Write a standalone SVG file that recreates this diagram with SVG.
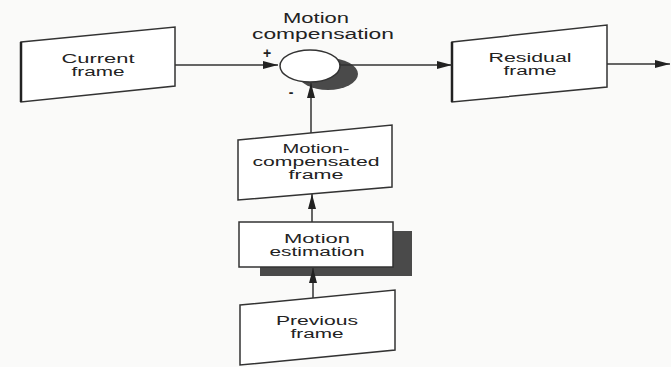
<svg xmlns="http://www.w3.org/2000/svg" width="671" height="367" viewBox="0 0 671 367">
<style>
.box{fill:#fff;stroke:#333;stroke-width:1.5;stroke-linejoin:miter}
.t{font-family:"Liberation Sans",Arial,sans-serif;font-size:12px;fill:#222;text-anchor:middle}
.c{stroke:#333;stroke-width:1.5;fill:none}
.sh{fill:#4a4a4a}
</style>
<defs>
<marker id="ah" markerUnits="userSpaceOnUse" markerWidth="16" markerHeight="10" refX="15" refY="5" orient="auto">
<path d="M0,1 L15,5 L0,9 Z" fill="#222"/>
</marker>
</defs>
<rect width="671" height="367" fill="#fafaf9"/>

<g id="title">
<text class="t" x="316" y="23" textLength="66" lengthAdjust="spacingAndGlyphs" style="font-size:14px">Motion</text>
<text class="t" x="323" y="39" textLength="142" lengthAdjust="spacingAndGlyphs" style="font-size:14px">compensation</text>
</g>

<g id="current-frame">
<polygon class="box" points="21,42 175,27 175,86 21,102"/>
<line x1="21" y1="42" x2="21" y2="102" stroke="#222" stroke-width="2.5"/>
<text class="t" x="98" y="63" textLength="73" lengthAdjust="spacingAndGlyphs">Current</text>
<text class="t" x="98" y="76" textLength="53" lengthAdjust="spacingAndGlyphs">frame</text>
</g>

<g id="summer">
<ellipse class="sh" cx="328" cy="74" rx="30" ry="16"/>
<ellipse cx="310" cy="66" rx="30" ry="16" fill="#fff" stroke="#333" stroke-width="1.5"/>
<text class="t" x="267" y="58" style="font-weight:bold;font-size:14px">+</text>
<text class="t" x="291" y="97" style="font-weight:bold;font-size:14px">-</text>
</g>

<g id="residual-frame">
<polygon class="box" points="452,42 607,25 607,87 452,102"/>
<line x1="452" y1="42" x2="452" y2="102" stroke="#222" stroke-width="2.5"/>
<text class="t" x="530" y="62" textLength="83" lengthAdjust="spacingAndGlyphs">Residual</text>
<text class="t" x="530" y="75" textLength="53" lengthAdjust="spacingAndGlyphs">frame</text>
</g>

<g id="mc-frame">
<polygon class="box" points="238,140 392,125 392,187 238,200"/>
<text class="t" x="316" y="153" textLength="67" lengthAdjust="spacingAndGlyphs">Motion-</text>
<text class="t" x="316" y="166" textLength="127" lengthAdjust="spacingAndGlyphs">compensated</text>
<text class="t" x="316" y="179" textLength="55" lengthAdjust="spacingAndGlyphs">frame</text>
</g>

<g id="motion-estimation">
<rect class="sh" x="260" y="231" width="152" height="45"/>
<rect class="box" x="239" y="222" width="154" height="45"/>
<text class="t" x="317" y="243" textLength="66" lengthAdjust="spacingAndGlyphs">Motion</text>
<text class="t" x="317" y="256" textLength="95" lengthAdjust="spacingAndGlyphs">estimation</text>
</g>

<g id="previous-frame">
<polygon class="box" points="240,305 395,290 395,350 240,365"/>
<text class="t" x="317" y="325" textLength="82" lengthAdjust="spacingAndGlyphs">Previous</text>
<text class="t" x="317" y="338" textLength="53" lengthAdjust="spacingAndGlyphs">frame</text>
</g>

<g id="connectors">
<line class="c" x1="175" y1="65" x2="278" y2="65" marker-end="url(#ah)"/>
<line class="c" x1="340" y1="65" x2="452" y2="65" marker-end="url(#ah)"/>
<line class="c" x1="607" y1="64" x2="670" y2="64" marker-end="url(#ah)"/>
<line class="c" x1="311" y1="133" x2="311" y2="83" marker-end="url(#ah)"/>
<line class="c" x1="312" y1="222" x2="312" y2="194" marker-end="url(#ah)"/>
<line class="c" x1="313" y1="298" x2="313" y2="268" marker-end="url(#ah)"/>
</g>
</svg>
